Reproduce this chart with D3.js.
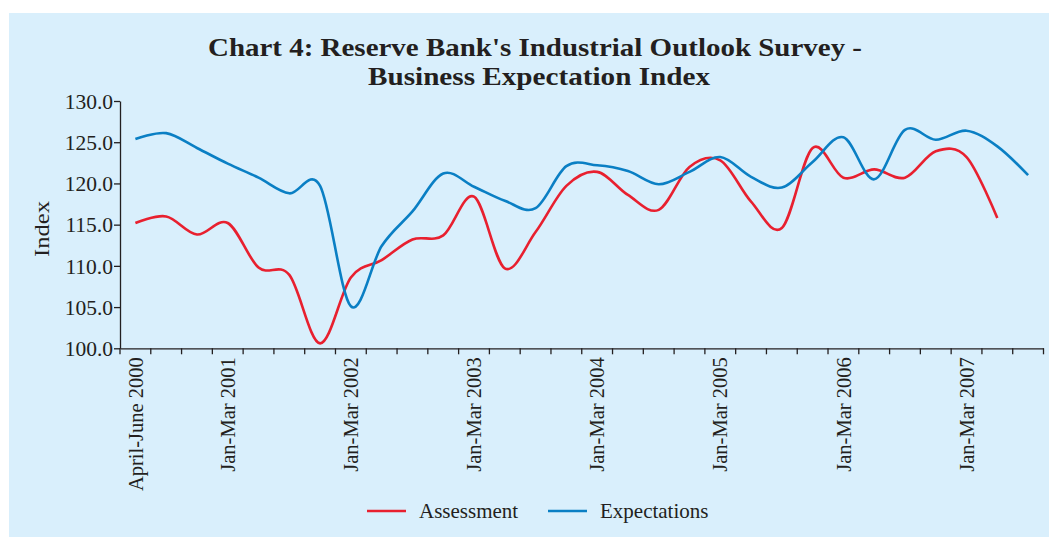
<!DOCTYPE html>
<html>
<head>
<meta charset="utf-8">
<script src="https://cdn.jsdelivr.net/npm/d3@7/dist/d3.min.js"></script>
<style>
  html, body { margin: 0; padding: 0; background: #ffffff; }
  svg { display: block; }
  text { font-family: "Liberation Serif", "Times New Roman", serif; fill: #231f20; }
</style>
</head>
<body>
<svg id="chart" width="1049" height="537"></svg>
<script>
const categories = [
  "April-June 2000", "Jul-Sep 2000", "Oct-Dec 2000", "Jan-Mar 2001",
  "Apr-Jun 2001", "Jul-Sep 2001", "Oct-Dec 2001", "Jan-Mar 2002",
  "Apr-Jun 2002", "Jul-Sep 2002", "Oct-Dec 2002", "Jan-Mar 2003",
  "Apr-Jun 2003", "Jul-Sep 2003", "Oct-Dec 2003", "Jan-Mar 2004",
  "Apr-Jun 2004", "Jul-Sep 2004", "Oct-Dec 2004", "Jan-Mar 2005",
  "Apr-Jun 2005", "Jul-Sep 2005", "Oct-Dec 2005", "Jan-Mar 2006",
  "Apr-Jun 2006", "Jul-Sep 2006", "Oct-Dec 2006", "Jan-Mar 2007",
  "Apr-Jun 2007", "Jul-Sep 2007"
];
const shownLabels = ["April-June 2000", "Jan-Mar 2001", "Jan-Mar 2002", "Jan-Mar 2003",
  "Jan-Mar 2004", "Jan-Mar 2005", "Jan-Mar 2006", "Jan-Mar 2007"];
const assessment = [
  115.2, 116.0, 113.8, 115.2, 109.8, 108.9, 100.6, 108.6,
  110.7, 113.2, 113.7, 118.4, 109.7, 114.1, 119.7, 121.4,
  118.6, 116.8, 122.0, 122.8, 117.8, 114.6, 124.3, 120.7,
  121.7, 120.7, 123.9, 123.2, 115.8
];
const expectations = [
  125.4, 126.1, 124.3, 122.4, 120.7, 118.8, 119.7, 105.1,
  112.4, 116.6, 121.2, 119.6, 117.9, 117.0, 122.1, 122.2,
  121.5, 119.9, 121.4, 123.2, 120.8, 119.5, 122.6, 125.6,
  120.5, 126.5, 125.3, 126.4, 124.5, 121.0
];
const yTicks = [100, 105, 110, 115, 120, 125, 130];
const seriesNames = ["Assessment", "Expectations"];
const seriesColors = ["#e8202f", "#0a7fc4"];

const svg = d3.select("#chart");
svg.append("rect").attr("x", 9).attr("y", 13).attr("width", 1040).attr("height", 524)
  .attr("fill", "#d9effc");

const m = { left: 120, right: 1043.5, top: 101, bottom: 348.3 };
const x = d3.scaleBand().domain(categories).range([m.left, m.right]).paddingInner(0).paddingOuter(0);
const y = d3.scaleLinear().domain([100, 130]).range([m.bottom, m.top]);

// title
svg.append("text").attr("x", 535).attr("y", 56).attr("text-anchor", "middle")
  .attr("font-size", 26).attr("font-weight", "bold")
  .attr("textLength", 654).attr("lengthAdjust", "spacingAndGlyphs")
  .text("Chart 4: Reserve Bank's Industrial Outlook Survey -");
svg.append("text").attr("x", 539).attr("y", 85).attr("text-anchor", "middle")
  .attr("font-size", 26).attr("font-weight", "bold")
  .attr("textLength", 342).attr("lengthAdjust", "spacingAndGlyphs")
  .text("Business Expectation Index");

// y axis
const yAxis = d3.axisLeft(y).tickValues(yTicks).tickFormat(d3.format(".1f")).tickSize(6).tickSizeOuter(0);
const gy = svg.append("g").attr("transform", `translate(${m.left},0)`).call(yAxis);
gy.select(".domain").attr("stroke", "#231f20").attr("stroke-width", 1.3);
gy.selectAll(".tick line").attr("stroke", "#231f20").attr("stroke-width", 1.3);
gy.selectAll(".tick text").attr("font-family", "Liberation Serif, serif").attr("font-size", 21.5)
  .attr("fill", "#231f20").attr("x", -7).attr("dy", "0.34em");

// x axis
const xAxis = d3.axisBottom(x).tickSize(6).tickSizeOuter(0).tickFormat(d => shownLabels.includes(d) ? d : "");
const gx = svg.append("g").attr("transform", `translate(0,${m.bottom})`).call(xAxis);
gx.select(".domain").attr("stroke", "#231f20").attr("stroke-width", 1.3);
// move tick lines to band boundaries
gx.selectAll(".tick line").attr("stroke", "#231f20").attr("stroke-width", 1.3)
  .attr("x1", -x.bandwidth() / 2).attr("x2", -x.bandwidth() / 2);
// final boundary tick
gx.append("line").attr("x1", m.right).attr("x2", m.right).attr("y1", 0).attr("y2", 6)
  .attr("stroke", "#231f20").attr("stroke-width", 1.3);
gx.selectAll(".tick text").attr("font-family", "Liberation Serif, serif").attr("font-size", 20.5)
  .attr("fill", "#231f20")
  .attr("transform", "rotate(-90)").attr("text-anchor", "end")
  .attr("x", -9).attr("y", 0).attr("dy", "0.35em");

// y label
svg.append("text").attr("transform", "translate(49,229) rotate(-90)").attr("text-anchor", "middle")
  .attr("font-size", 21).attr("textLength", 56).attr("lengthAdjust", "spacingAndGlyphs").text("Index");

// lines
const line = d3.line()
  .x((d, i) => x(categories[i]) + x.bandwidth() / 2)
  .y(d => y(d))
  .curve(d3.curveCardinal.tension(0));
[assessment, expectations].forEach((s, k) => {
  svg.append("path").datum(s).attr("d", line).attr("fill", "none")
    .attr("stroke", seriesColors[k]).attr("stroke-width", 2.6);
});

// legend
const legendX = [367, 548];
seriesNames.forEach((n, k) => {
  svg.append("line").attr("x1", legendX[k]).attr("x2", legendX[k] + 39)
    .attr("y1", 511).attr("y2", 511).attr("stroke", seriesColors[k]).attr("stroke-width", 2.6);
  svg.append("text").attr("x", legendX[k] + 52).attr("y", 518).attr("font-size", 21).text(n);
});
</script>
</body>
</html>
